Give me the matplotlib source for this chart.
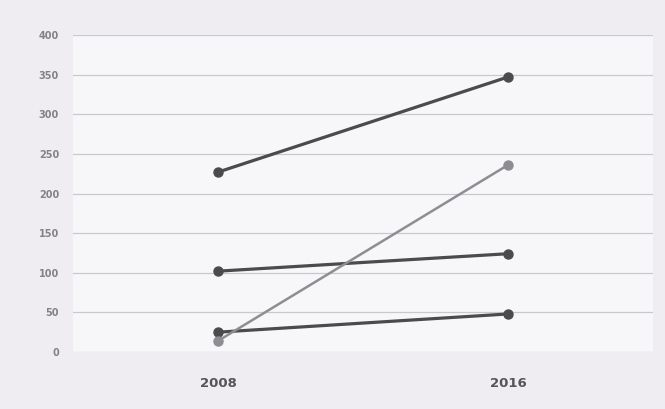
import numpy as np
import matplotlib.pyplot as plt

years = ["2008", "2016"]
series_a = [227, 347]
series_b = [14, 236]
series_c = [102, 124]
series_d = [25, 48]
y_ticks = [0, 50, 100, 150, 200, 250, 300, 350, 400]

dark = "#4b4b4d"
light = "#8e8d91"

fig = plt.figure(figsize=(6.65, 4.09), dpi=100)
fig.patch.set_facecolor("#efedf1")
ax = fig.add_axes([73 / 665, 57 / 409, 580 / 665, 317 / 409])
ax.set_facecolor("#f7f6f8")

x = np.arange(len(years))
for vals, color, lw in [(series_a, dark, 2.3), (series_c, dark, 2.3),
                        (series_d, dark, 2.3), (series_b, light, 1.8)]:
    ax.plot(x, vals, color=color, linewidth=lw, marker="o", markersize=6.5,
            solid_capstyle="round", zorder=3)

ax.set_xlim(-0.5, 1.5)
ax.set_ylim(0, 400)
ax.set_xticks(x)
ax.set_xticklabels(years, fontsize=9.5, fontweight="bold", color="#555458")
ax.set_yticks(y_ticks)
ax.set_yticklabels([str(v) for v in y_ticks], fontsize=7,
                   fontweight="bold", color="#838287")
ax.tick_params(axis="y", length=0, pad=10)
ax.tick_params(axis="x", length=0, pad=18)
ax.grid(axis="y", color="#c9c8cc", linewidth=0.9)
ax.set_axisbelow(True)
for s in ax.spines.values():
    s.set_visible(False)

fig.savefig("out.png", dpi=100, facecolor=fig.get_facecolor())
